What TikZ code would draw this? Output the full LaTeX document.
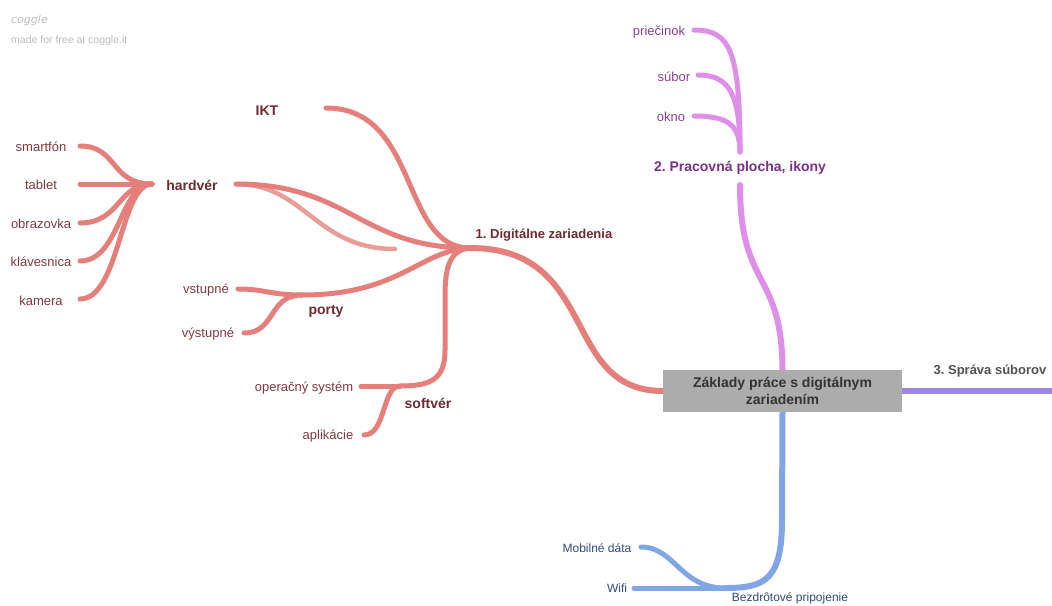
\documentclass[tikz,border=0pt]{standalone}
\usepackage{fontspec}
\setmainfont{Liberation Sans}
\newfontfamily\logofont{DejaVu Sans}
\definecolor{redc}{HTML}{E57F7B}
\definecolor{redl}{HTML}{EA9C98}
\definecolor{redt}{HTML}{7E3A3F}
\definecolor{redb}{HTML}{6E2A30}
\definecolor{purc}{HTML}{DE90E8}
\definecolor{purt}{HTML}{8A4096}
\definecolor{purb}{HTML}{7A3088}
\definecolor{bluc}{HTML}{80A6E6}
\definecolor{blut}{HTML}{2F4C7E}
\definecolor{vioc}{HTML}{9C88E0}
\definecolor{boxc}{HTML}{ACACAC}
\definecolor{boxt}{HTML}{333333}
\definecolor{logoc}{HTML}{BDBDBD}
\pgfdeclarelayer{bg}
\pgfsetlayers{bg,main}
\tikzset{
  lbl/.style={inner sep=0pt, anchor=center},
  leafr/.style={lbl, font=\fontsize{13}{15}\selectfont, text=redt},
  boldr/.style={lbl, font=\bfseries\fontsize{14}{16}\selectfont, text=redb},
  leafp/.style={lbl, font=\fontsize{13}{15}\selectfont, text=purt},
  leafb/.style={lbl, font=\fontsize{12}{14}\selectfont, text=blut},
  redline/.style={draw=redc, line width=5pt, line cap=round},
  redmain/.style={draw=redc, line width=6pt, line cap=round},
  purline/.style={draw=purc, line width=5pt, line cap=round},
  purmain/.style={draw=purc, line width=6pt, line cap=round},
  bluline/.style={draw=bluc, line width=5pt, line cap=round},
  blumain/.style={draw=bluc, line width=6pt, line cap=round},
}
\begin{document}
\begin{tikzpicture}[x=1pt,y=-1pt]
\useasboundingbox (0,0) rectangle (1052,605);
% logo
\node[lbl, anchor=west, font=\logofont\itshape\fontsize{11}{13}\selectfont, text=logoc] (logo) at (11,20) {coggle};
\node[lbl, anchor=west, font=\fontsize{10.5}{12}\selectfont, text=logoc] (made) at (11,41) {made for free at coggle.it};
% root
\node[lbl, fill=boxc, minimum width=239pt, minimum height=42pt, align=center,
  font=\bfseries\fontsize{14}{17}\selectfont, text=boxt] (root) at (782.5,391) {Základy práce s digitálnym\\zariadením};
% red labels
\node[lbl, font=\bfseries\fontsize{13}{15}\selectfont, text=redb] (dz) at (544,235) {1.\ Digitálne zariadenia};
\node[boldr] (ikt) at (267,111) {IKT};
\node[boldr] (hw) at (192,185) {hardvér};
\node[boldr] (porty) at (326,311) {porty};
\node[boldr] (sw) at (428,403) {softvér};
\node[leafr] (smart) at (41,147) {smartfón};
\node[leafr] (tab) at (41,185) {tablet};
\node[leafr] (obr) at (41,224) {obrazovka};
\node[leafr] (kla) at (41,262) {klávesnica};
\node[leafr] (kam) at (41,301) {kamera};
\node[leafr] (vst) at (206,290) {vstupné};
\node[leafr] (vys) at (208,334) {výstupné};
\node[leafr] (os) at (304,388) {operačný systém};
\node[leafr] (apl) at (328,436) {aplikácie};
% purple labels
\node[lbl, font=\bfseries\fontsize{14}{16}\selectfont, text=purb] (pp) at (740,168) {2.\ Pracovná plocha, ikony};
\node[leafp] (prie) at (659,32) {priečinok};
\node[leafp] (sub) at (674,77) {súbor};
\node[leafp] (okno) at (671,117) {okno};
% right
\node[lbl, font=\bfseries\fontsize{13}{15}\selectfont, text=boxt!85] (sprava) at (990,371) {3.\ Správa súborov};
% blue labels
\node[leafb] (mob) at (597,548) {Mobilné dáta};
\node[leafb] (wifi) at (617,588) {Wifi};
\node[leafb, anchor=south] (bez) at (790,604) {Bezdrôtové pripojenie};
% coordinates
\coordinate (dzh) at (470,248);
\coordinate (hwr) at (236,184);
\coordinate (hwl) at (152,184);
\coordinate (hwx) at (395,249);
\coordinate (iktr) at (326,108);
\coordinate (portr) at (302,295);
\coordinate (swr) at (400,386);
\coordinate (e-smart) at (80,146);
\coordinate (e-tab) at (80,184);
\coordinate (e-obr) at (80,223);
\coordinate (e-kla) at (80,261);
\coordinate (e-kam) at (80,299);
\coordinate (e-vst) at (238,289);
\coordinate (e-vys) at (244,333);
\coordinate (e-os) at (361,386);
\coordinate (e-apl) at (364,435);
\coordinate (pph) at (740,185);
\coordinate (ppt) at (740,152);
\coordinate (e-prie) at (694,30);
\coordinate (e-sub) at (698,75);
\coordinate (e-okno) at (694,116);
\coordinate (bzh) at (725,588);
\coordinate (e-mob) at (641,547);
\coordinate (e-wifi) at (634,588);
\coordinate (e-right) at (1052,391);
\begin{pgfonlayer}{bg}
\fill[white] (0,0) rectangle (1052,605);
% red
\draw[redmain] (root.west) .. controls (560,391) and (600,248) .. (dzh);
\draw[redline] (dzh) .. controls (400,248) and (420,108) .. (iktr);
\draw[draw=redl, line width=4.5pt, line cap=round] (hwr) .. controls (305,184) and (315,249) .. (hwx);
\draw[redline] (dzh) .. controls (360,248) and (350,184) .. (hwr);
\draw[redline] (dzh) .. controls (420,250) and (400,295) .. (portr);
\draw[redline] (dzh) .. controls (444,250) and (445,280) .. (445,305) -- (445,350) .. controls (445,380) and (430,386) .. (swr);
\draw[redline] (hwl) .. controls (110,184) and (118,146) .. (e-smart);
\draw[redline] (hwl) -- (e-tab);
\draw[redline] (hwl) .. controls (118,184) and (120,223) .. (e-obr);
\draw[redline] (hwl) .. controls (120,184) and (120,261) .. (e-kla);
\draw[redline] (hwl) .. controls (120,184) and (120,299) .. (e-kam);
\draw[redline] (portr) .. controls (270,295) and (265,289) .. (e-vst);
\draw[redline] (portr) .. controls (268,295) and (276,333) .. (e-vys);
\draw[redline] (swr) -- (e-os);
\draw[redline] (swr) .. controls (382,386) and (386,435) .. (e-apl);
% purple
\draw[purmain] (root.north) .. controls (782,270) and (740,290) .. (pph);
\draw[purline] (ppt) .. controls (740,50) and (730,30) .. (e-prie);
\draw[purline] (ppt) .. controls (740,95) and (730,75) .. (e-sub);
\draw[purline] (ppt) .. controls (740,125) and (728,116) .. (e-okno);
% blue
\draw[blumain] (root.south) -- (782,520) .. controls (782,580) and (765,588) .. (bzh);
\draw[bluline] (bzh) -- (e-wifi);
\draw[bluline] (bzh) .. controls (680,588) and (675,547) .. (e-mob);
% right
\draw[draw=vioc, line width=6pt] (root.east) -- (e-right);
\end{pgfonlayer}
\end{tikzpicture}
\end{document}
